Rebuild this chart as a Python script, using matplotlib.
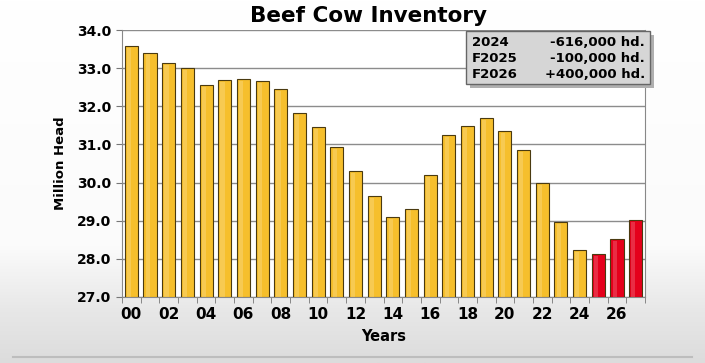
import numpy as np
import matplotlib
matplotlib.use("Agg")
import matplotlib.pyplot as plt
from matplotlib.colors import LinearSegmentedColormap
from matplotlib.patches import Rectangle

plt.rcParams.update({
    "font.family": ["DejaVu Sans"],
    "font.weight": "bold",
})

# Jan 1 beef cow inventory, million head (2025-2027 are forecasts)
years = list(range(2000, 2028))
inventory = [33.59, 33.41, 33.14, 33.01, 32.56, 32.69, 32.71, 32.66, 32.45,
             31.83, 31.45, 30.93, 30.30, 29.65, 29.09, 29.32, 30.19, 31.24,
             31.49, 31.70, 31.35, 30.85, 29.99, 28.97, 28.24, 28.12, 28.52, 29.01]
is_forecast = [y >= 2025 for y in years]
tick_labels = [f"{y % 100:02d}" for y in years[::2]]
box_rows = [("2024", "-616,000 hd."), ("F2025", "-100,000 hd."), ("F2026", "+400,000 hd.")]

GOLD = "#F6BF2C"
RED = "#E5001B"

fig = plt.figure(figsize=(7.05, 3.63), dpi=100)

# slide background: white, fading to light grey near the bottom
bg = fig.add_axes([0, 0, 1, 1], zorder=-10)
grad = np.linspace(0, 1, 256)[:, None]
bg_cmap = LinearSegmentedColormap.from_list(
    "bg", [(0.0, "#dcdcdc"), (0.15, "#e8e8e8"), (0.32, "#fbfbfb"), (1.0, "#ffffff")])
bg.imshow(grad, cmap=bg_cmap, aspect="auto", extent=[0, 1, 0, 1], origin="lower")
bg.plot([13 / 705, 692 / 705], [1 - 357 / 363] * 2, color="#bdbdbd", lw=1.5)
bg.set_xlim(0, 1)
bg.set_ylim(0, 1)
bg.axis("off")

ax = fig.add_axes([122 / 705, 1 - 297 / 363, (645 - 122) / 705, (297 - 30) / 363])
ax.set_facecolor("white")
x = np.arange(len(years))
colors = [RED if f else GOLD for f in is_forecast]
ax.bar(x, [v - 27 for v in inventory], bottom=27, width=0.7, color=colors,
       edgecolor="#4a3a10", linewidth=0.8, zorder=3)
# highlight strip for a slight 3D look
ax.bar(x - 0.12, [v - 27 - 0.05 for v in inventory], bottom=27, width=0.22,
       color="white", alpha=0.18, linewidth=0, zorder=4)

ax.set_xlim(-0.5, len(years) - 0.5)
ax.set_ylim(27, 34)
ax.set_yticks(np.arange(27, 34.01, 1))
ax.set_yticklabels([f"{v:.1f}" for v in np.arange(27, 34.01, 1)], fontsize=10,
                   fontweight="bold")
ax.set_xticks(x[::2])
ax.set_xticklabels(tick_labels, fontsize=11, fontweight="bold")
ax.set_xticks(np.arange(-0.5, len(years), 1), minor=True)
ax.tick_params(axis="x", which="major", length=0, pad=7)
ax.tick_params(axis="x", which="minor", length=4, color="#777777", direction="out")
ax.tick_params(axis="y", length=4, color="#777777", pad=4)
ax.grid(axis="y", color="#8c8c8c", lw=1.0, zorder=0)
for s in ["left", "bottom", "right", "top"]:
    ax.spines[s].set_color("#888888")
ax.spines["top"].set_visible(False)

ax.set_xlabel("Years", fontsize=10.5, fontweight="bold", labelpad=5)
ax.set_ylabel("Million Head", fontsize=9.5, fontweight="bold", labelpad=7)
fig.text(368 / 705, 1 - 16 / 363, "Beef Cow Inventory", ha="center", va="center",
         fontsize=15.5, fontweight="bold")

# summary box in the upper right
bx0, by0, bw, bh = 466 / 705, 1 - 84 / 363, 184 / 705, 53 / 363
fig.patches.append(Rectangle((bx0 + 0.005, by0 - 0.01), bw, bh, transform=fig.transFigure,
                             facecolor="#b0b0b0", edgecolor="none", zorder=5))
fig.patches.append(Rectangle((bx0, by0), bw, bh, transform=fig.transFigure,
                             facecolor="#d6d6d6", edgecolor="#666666", lw=1, zorder=6))
for i, (lab, val) in enumerate(box_rows):
    yy = 1 - (43 + i * 15.5) / 363
    fig.text(472 / 705, yy, lab, ha="left", va="center", fontsize=9.5,
             fontweight="bold", zorder=7)
    fig.text(645 / 705, yy, val, ha="right", va="center", fontsize=9.5,
             fontweight="bold", zorder=7)

fig.savefig("out.png", dpi=100)
